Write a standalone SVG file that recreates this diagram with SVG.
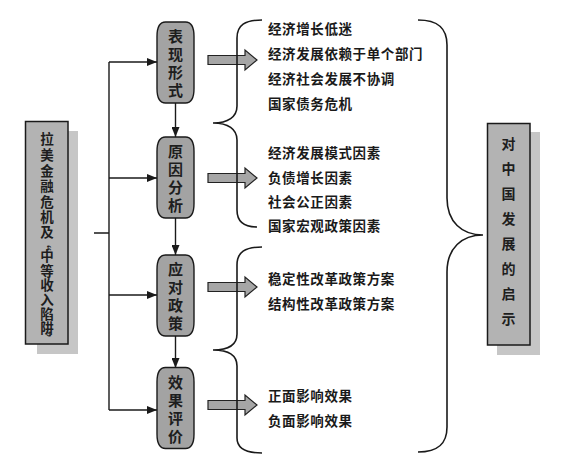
<svg xmlns="http://www.w3.org/2000/svg" width="566" height="468" viewBox="0 0 566 468">
<style>
.ln{fill:none;stroke:#1a1a1a;stroke-width:1.4}
.br{fill:none;stroke:#1a1a1a;stroke-width:1.6}
.nd{fill:#a3a3a3;stroke:#1a1a1a;stroke-width:1.4}
.bx{fill:#b3b3b3;stroke:#1a1a1a;stroke-width:1.5}
.sh{fill:#c6c6c6}
.ba{fill:#a6a6a6;stroke:#222;stroke-width:1.2}
.nt{font-family:"Noto Sans CJK SC","Noto Sans CJK TC",sans-serif;font-size:15px;font-weight:700;fill:#1e1e1e;text-anchor:middle;dominant-baseline:central}
.lt{font-family:"Noto Sans CJK SC","Noto Sans CJK TC",sans-serif;font-size:13.5px;font-weight:700;fill:#1e1e1e;text-anchor:middle;dominant-baseline:central}
.bt{font-family:"Noto Sans CJK SC","Noto Sans CJK TC",sans-serif;font-size:14px;font-weight:700;fill:#1e1e1e;text-anchor:middle;dominant-baseline:central}
.tx{font-family:"Noto Sans CJK SC","Noto Sans CJK TC",sans-serif;font-size:13.5px;font-weight:600;fill:#1a1a1a;dominant-baseline:central;letter-spacing:0.6px}
</style>
<defs>
<marker id="ah" markerWidth="10" markerHeight="8" refX="10" refY="4" orient="auto" markerUnits="userSpaceOnUse">
<path d="M0,0 L10,4 L0,8 Z" fill="#1a1a1a"/>
</marker>
<path id="oct" d="M -10,-40.5 H 10 Q 18.5,-40.5 18.5,-26 V 26 Q 18.5,40.5 10,40.5 H -10 Q -18.5,40.5 -18.5,26 V -26 Q -18.5,-40.5 -10,-40.5 Z"/>
<path id="fat" d="M 208,-4.5 H 245 V -10 L 257,0 L 245,10 V 4.5 H 208 Z"/>
</defs>
<rect width="566" height="468" fill="#ffffff"/>

<g id="left-box">
<rect class="sh" x="37" y="131" width="41" height="223"/>
<rect class="bx" x="25.5" y="121.5" width="42.5" height="222.5"/>
<text class="lt" x="47" y="138">拉</text>
<text class="lt" x="47" y="154">美</text>
<text class="lt" x="47" y="170">金</text>
<text class="lt" x="47" y="185">融</text>
<text class="lt" x="47" y="201">危</text>
<text class="lt" x="47" y="216">机</text>
<text class="lt" x="47" y="231">及</text>
<text class="lt" font-size="10" transform="translate(45,244) rotate(90)">“</text>
<text class="lt" x="47" y="255">中</text>
<text class="lt" x="47" y="270">等</text>
<text class="lt" x="47" y="284">收</text>
<text class="lt" x="47" y="299">入</text>
<text class="lt" x="47" y="313">陷</text>
<text class="lt" x="47" y="327">阱</text>
<text class="lt" font-size="10" transform="translate(45,338) rotate(90)">”</text>
</g>

<g id="connectors">
<path class="ln" d="M 94,233 H 109 M 109,62 V 410"/>
<path class="ln" d="M 109,62 H 157" marker-end="url(#ah)"/>
<path class="ln" d="M 109,178 H 157" marker-end="url(#ah)"/>
<path class="ln" d="M 109,295 H 157" marker-end="url(#ah)"/>
<path class="ln" d="M 109,410 H 157" marker-end="url(#ah)"/>
<path class="ln" d="M 175.5,103 V 137" marker-end="url(#ah)"/>
<path class="ln" d="M 175.5,218 V 255" marker-end="url(#ah)"/>
<path class="ln" d="M 175.5,336 V 368" marker-end="url(#ah)"/>
<use href="#fat" class="ba" transform="translate(0,60)"/>
<use href="#fat" class="ba" transform="translate(0,178)"/>
<use href="#fat" class="ba" transform="translate(0,287)"/>
<use href="#fat" class="ba" transform="translate(0,405)"/>
<path class="br" d="M 262,20 C 245,20 237,25 237,38 L 237,106 C 237,117 228,123 213,123 C 228,123 237,129 237,140 L 237,210 C 237,222 245,227 257,227"/>
<path class="br" d="M 262,247 C 245,247 237,252 237,265 L 237,334 C 237,345 228,350 213,350 C 228,350 237,355 237,366 L 237,438 C 237,449 247,453 262,453"/>
<path class="br" d="M 418,20 C 438,20 447,28 447,45 L 447,198 C 447,222 462,235 483,235 C 462,235 447,248 447,272 L 447,427 C 447,444 438,452 418,452"/>
</g>

<g id="node-biaoxian">
<use href="#oct" class="nd" transform="translate(175.5,62.5)"/>
<text class="nt" x="175.5" y="35">表</text>
<text class="nt" x="175.5" y="53">现</text>
<text class="nt" x="175.5" y="71">形</text>
<text class="nt" x="175.5" y="89">式</text>
</g>
<g id="node-yuanyin">
<use href="#oct" class="nd" transform="translate(175.5,177.5)"/>
<text class="nt" x="175.5" y="150">原</text>
<text class="nt" x="175.5" y="168">因</text>
<text class="nt" x="175.5" y="186">分</text>
<text class="nt" x="175.5" y="204">析</text>
</g>
<g id="node-yingdui">
<use href="#oct" class="nd" transform="translate(175.5,295.5)"/>
<text class="nt" x="175.5" y="268">应</text>
<text class="nt" x="175.5" y="286">对</text>
<text class="nt" x="175.5" y="304">政</text>
<text class="nt" x="175.5" y="322">策</text>
</g>
<g id="node-xiaoguo">
<use href="#oct" class="nd" transform="translate(175.5,408)"/>
<text class="nt" x="175.5" y="381">效</text>
<text class="nt" x="175.5" y="399">果</text>
<text class="nt" x="175.5" y="417">评</text>
<text class="nt" x="175.5" y="435">价</text>
</g>

<g id="list-1">
<text class="tx" x="268" y="28">经济增长低迷</text>
<text class="tx" x="268" y="53">经济发展依赖于单个部门</text>
<text class="tx" x="268" y="78">经济社会发展不协调</text>
<text class="tx" x="268" y="103">国家债务危机</text>
</g>
<g id="list-2">
<text class="tx" x="268" y="152">经济发展模式因素</text>
<text class="tx" x="268" y="177">负债增长因素</text>
<text class="tx" x="268" y="201">社会公正因素</text>
<text class="tx" x="268" y="225">国家宏观政策因素</text>
</g>
<g id="list-3">
<text class="tx" x="268" y="278">稳定性改革政策方案</text>
<text class="tx" x="268" y="303">结构性改革政策方案</text>
</g>
<g id="list-4">
<text class="tx" x="268" y="395">正面影响效果</text>
<text class="tx" x="268" y="420">负面影响效果</text>
</g>

<g id="right-box">
<rect class="sh" x="497" y="132" width="43" height="223"/>
<rect class="bx" x="487.5" y="123.5" width="42.5" height="221.5"/>
<text class="bt" x="508.5" y="143">对</text>
<text class="bt" x="508.5" y="168">中</text>
<text class="bt" x="508.5" y="193">国</text>
<text class="bt" x="508.5" y="218">发</text>
<text class="bt" x="508.5" y="243">展</text>
<text class="bt" x="508.5" y="268">的</text>
<text class="bt" x="508.5" y="293">启</text>
<text class="bt" x="508.5" y="318">示</text>
</g>
</svg>
